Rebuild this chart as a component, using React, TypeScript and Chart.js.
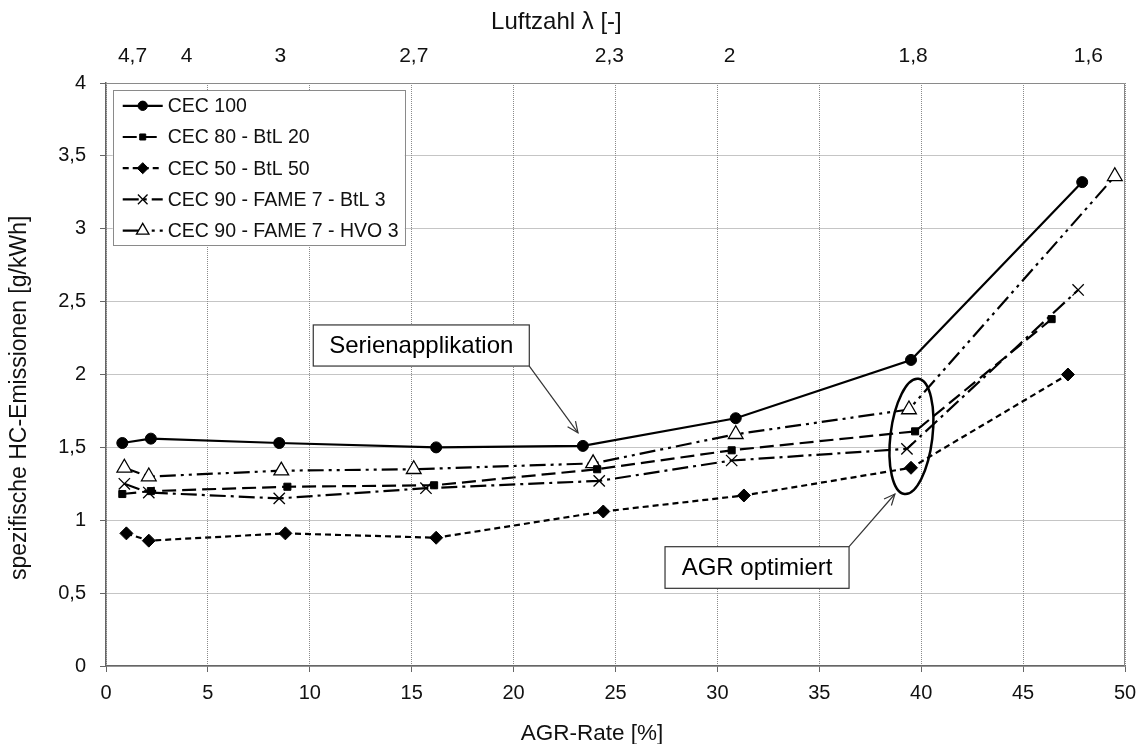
import React, { useEffect, useRef } from 'react';
import { Chart, registerables } from 'chart.js';
import { drawPoint } from 'chart.js/helpers';

Chart.register(...registerables);

const FONT = '"Liberation Sans", Arial, sans-serif';

// AGR-Rate [%] (x) and spezifische HC-Emissionen [g/kWh] (y) per series
const agrCEC100 = [0.8, 2.2, 8.5, 16.2, 23.4, 30.9, 39.5, 47.9];
const hcCEC100 = [1.53, 1.56, 1.53, 1.5, 1.51, 1.7, 2.1, 3.32];

const agrBtL20 = [0.8, 2.2, 8.9, 16.1, 24.1, 30.7, 39.7, 46.4];
const hcBtL20 = [1.18, 1.2, 1.23, 1.24, 1.35, 1.48, 1.61, 2.38];

const agrBtL50 = [1.0, 2.1, 8.8, 16.2, 24.4, 31.3, 39.5, 47.2];
const hcBtL50 = [0.91, 0.86, 0.91, 0.88, 1.06, 1.17, 1.36, 2.0];

const agrFameBtL3 = [0.9, 2.1, 8.5, 15.7, 24.2, 30.7, 39.3, 47.7];
const hcFameBtL3 = [1.25, 1.19, 1.15, 1.22, 1.27, 1.41, 1.49, 2.58];

const agrFameHvo3 = [0.9, 2.1, 8.6, 15.1, 23.9, 30.9, 39.4, 49.5];
const hcFameHvo3 = [1.36, 1.3, 1.34, 1.35, 1.39, 1.59, 1.76, 3.36];

const seriesNames = [
  'CEC 100',
  'CEC 80 - BtL 20',
  'CEC 50 - BtL 50',
  'CEC 90 - FAME 7 - BtL 3',
  'CEC 90 - FAME 7 - HVO 3',
];

// Top axis: Luftzahl λ labels at AGR-Rate positions
const lambdaPositions = [1.3, 3.95, 8.55, 15.1, 24.7, 30.6, 39.6, 48.2];
const lambdaLabels = ['4,7', '4', '3', '2,7', '2,3', '2', '1,8', '1,6'];

const xTitle = 'AGR-Rate [%]';
const yTitle = 'spezifische HC-Emissionen [g/kWh]';
const topTitle = 'Luftzahl λ [-]';

const note1 = 'Serienapplikation';
const note2 = 'AGR optimiert';

function arrow(ctx: CanvasRenderingContext2D, x1: number, y1: number, x2: number, y2: number) {
  ctx.beginPath();
  ctx.moveTo(x1, y1);
  ctx.lineTo(x2, y2);
  ctx.stroke();
  const a = Math.atan2(y2 - y1, x2 - x1);
  const L = 12;
  const w = 0.42;
  ctx.beginPath();
  ctx.moveTo(x2 - L * Math.cos(a - w), y2 - L * Math.sin(a - w));
  ctx.lineTo(x2, y2);
  ctx.lineTo(x2 - L * Math.cos(a + w), y2 - L * Math.sin(a + w));
  ctx.stroke();
}

export default function App() {
  const ref = useRef<HTMLCanvasElement>(null);

  useEffect(() => {
    const canvas = ref.current;
    if (!canvas) return;
    const toPts = (xs: number[], ys: number[]) => xs.map((x, i) => ({ x, y: ys[i] }));

    const styles = [
      { dash: [], pointStyle: 'circle', radius: 5.5, bg: '#000', bw: 1 },
      { dash: [14, 6], pointStyle: 'rect', radius: 5, bg: '#000', bw: 1 },
      { dash: [6, 4], pointStyle: 'rectRot', radius: 6.5, bg: '#000', bw: 1 },
      { dash: [16, 5, 3, 5], pointStyle: 'crossRot', radius: 8, bg: '#000', bw: 1.3 },
      { dash: [16, 5, 3, 5, 3, 5], pointStyle: 'triangle', radius: 8.5, bg: '#fff', bw: 1.3 },
    ];
    const xsAll = [agrCEC100, agrBtL20, agrBtL50, agrFameBtL3, agrFameHvo3];
    const ysAll = [hcCEC100, hcBtL20, hcBtL50, hcFameBtL3, hcFameHvo3];

    const datasets = seriesNames.map((name, i) => ({
      label: name,
      data: toPts(xsAll[i], ysAll[i]),
      borderColor: '#000',
      borderWidth: 2.2,
      borderDash: styles[i].dash,
      pointStyle: styles[i].pointStyle,
      pointRadius: styles[i].radius,
      pointBackgroundColor: styles[i].bg,
      pointBorderColor: '#000',
      pointBorderWidth: styles[i].bw,
      tension: 0,
      fill: false,
      xAxisID: 'x',
      yAxisID: 'y',
    }));

    const overlay = {
      id: 'overlay',
      beforeDatasetsDraw(chart: any) {
        const { ctx, chartArea: a } = chart;
        ctx.save();
        ctx.strokeStyle = '#8a8a8a';
        ctx.lineWidth = 1;
        ctx.beginPath();
        ctx.moveTo(a.left, a.top + 0.5);
        ctx.lineTo(a.right - 0.5, a.top + 0.5);
        ctx.lineTo(a.right - 0.5, a.bottom);
        ctx.stroke();
        ctx.restore();
      },
      afterDatasetsDraw(chart: any) {
        const { ctx, chartArea: a } = chart;
        const sx = chart.scales.x;
        const sy = chart.scales.y;
        const px = (v: number) => sx.getPixelForValue(v);
        const py = (v: number) => sy.getPixelForValue(v);
        ctx.save();

        // Legend
        const lx = px(0.33), ly = py(3.95);
        const lw = 292, lh = 155;
        ctx.fillStyle = '#fff';
        ctx.fillRect(lx, ly, lw, lh);
        ctx.strokeStyle = '#8a8a8a';
        ctx.lineWidth = 1;
        ctx.strokeRect(Math.round(lx) + 0.5, Math.round(ly) + 0.5, lw, lh);
        ctx.font = `19.5px ${FONT}`;
        ctx.textAlign = 'left';
        ctx.textBaseline = 'middle';
        seriesNames.forEach((name, i) => {
          const ry = ly + 15.5 + i * 31.2;
          const x0 = lx + 10, x1 = lx + 50;
          ctx.save();
          ctx.strokeStyle = '#000';
          ctx.lineWidth = 2.2;
          ctx.setLineDash(styles[i].dash);
          ctx.beginPath();
          ctx.moveTo(x0, ry);
          ctx.lineTo(x1, ry);
          ctx.stroke();
          ctx.setLineDash([]);
          ctx.fillStyle = styles[i].bg;
          ctx.strokeStyle = '#000';
          ctx.lineWidth = styles[i].bw;
          drawPoint(ctx, { pointStyle: styles[i].pointStyle as any, rotation: 0, radius: styles[i].radius * 0.85, borderWidth: styles[i].bw }, (x0 + x1) / 2, ry);
          ctx.restore();
          ctx.fillStyle = '#111';
          ctx.fillText(name, x1 + 5, ry + 1);
        });

        // Annotation 1: Serienapplikation
        ctx.strokeStyle = '#333';
        ctx.lineWidth = 1.2;
        const b1x0 = px(10.17), b1x1 = px(20.77), b1y0 = py(2.34), b1y1 = py(2.058);
        ctx.fillStyle = '#fff';
        ctx.fillRect(b1x0, b1y0, b1x1 - b1x0, b1y1 - b1y0);
        ctx.strokeRect(b1x0, b1y0, b1x1 - b1x0, b1y1 - b1y0);
        ctx.fillStyle = '#000';
        ctx.font = `24px ${FONT}`;
        ctx.textAlign = 'center';
        ctx.textBaseline = 'middle';
        ctx.fillText(note1, (b1x0 + b1x1) / 2, (b1y0 + b1y1) / 2 + 1);
        arrow(ctx, b1x1, b1y1, px(23.16), py(1.6));

        // Annotation 2: AGR optimiert
        const b2x0 = px(27.43), b2x1 = px(36.46), b2y0 = py(0.8185), b2y1 = py(0.533);
        ctx.fillStyle = '#fff';
        ctx.fillRect(b2x0, b2y0, b2x1 - b2x0, b2y1 - b2y0);
        ctx.strokeRect(b2x0, b2y0, b2x1 - b2x0, b2y1 - b2y0);
        ctx.fillStyle = '#000';
        ctx.fillText(note2, (b2x0 + b2x1) / 2, (b2y0 + b2y1) / 2 + 1);
        arrow(ctx, b2x1, b2y0, px(38.71), py(1.18));

        // Ellipse
        ctx.strokeStyle = '#000';
        ctx.lineWidth = 2.5;
        ctx.beginPath();
        ctx.ellipse(px(39.52), py(1.575), 21, 58, 0.12, 0, Math.PI * 2);
        ctx.stroke();

        // Axis titles
        ctx.fillStyle = '#111';
        ctx.font = `22.5px ${FONT}`;
        ctx.textAlign = 'center';
        ctx.textBaseline = 'alphabetic';
        ctx.fillText(xTitle, px(23.85), a.bottom + 74);
        ctx.font = `24px ${FONT}`;
        ctx.fillText(topTitle, px(22.1), 29);
        ctx.font = `23px ${FONT}`;
        ctx.save();
        ctx.translate(26, py(1.84));
        ctx.rotate(-Math.PI / 2);
        ctx.fillText(yTitle, 0, 0);
        ctx.restore();

        ctx.restore();
      },
    };

    const chart = new Chart(canvas, {
      type: 'line',
      data: { datasets: datasets as any },
      options: {
        animation: false,
        responsive: false,
        layout: { padding: { left: 0, right: 14, top: 0, bottom: 0 } },
        plugins: {
          legend: { display: false },
          tooltip: { enabled: false },
          title: { display: false },
        },
        scales: {
          x: {
            type: 'linear',
            position: 'bottom',
            min: 0,
            max: 50,
            ticks: { stepSize: 5, font: { family: FONT, size: 20 }, color: '#111', padding: 9, maxRotation: 0 },
            grid: { color: '#8a8a8a', lineWidth: 1, tickColor: '#666', tickLength: 6, drawTicks: true },
            border: { display: true, color: '#666', width: 1.5, dash: [1, 1] },
            afterFit: (s: any) => { s.height = 78; s.paddingRight = 14; s.paddingLeft = 0; },
          },
          x2: {
            type: 'linear',
            position: 'top',
            min: 0,
            max: 50,
            grid: { display: false, drawTicks: false },
            border: { display: false },
            ticks: {
              autoSkip: false,
              maxRotation: 0,
              font: { family: FONT, size: 21 },
              color: '#111',
              padding: 14,
              callback: (_v: any, i: number) => lambdaLabels[i],
            },
            afterBuildTicks: (s: any) => { s.ticks = lambdaPositions.map((value) => ({ value })); },
            afterFit: (s: any) => { s.height = 83; s.paddingRight = 14; s.paddingLeft = 0; },
          },
          y: {
            type: 'linear',
            min: 0,
            max: 4,
            ticks: {
              stepSize: 0.5,
              font: { family: FONT, size: 20 },
              color: '#111',
              padding: 14,
              callback: (v: any) => String(v).replace('.', ','),
            },
            grid: { color: '#8a8a8a', lineWidth: 1, tickColor: '#666', tickLength: 6, drawTicks: true },
            border: { display: true, color: '#666', width: 1.5, dash: [1, 1] },
            afterFit: (s: any) => { s.width = 106; },
          },
        },
      },
      plugins: [overlay],
    });
    return () => chart.destroy();
  }, []);

  return (
    <div style={{ position: 'fixed', left: 0, top: 0, width: 1139, height: 744, background: '#fff' }}>
      <canvas ref={ref} width={1139} height={744} />
    </div>
  );
}
